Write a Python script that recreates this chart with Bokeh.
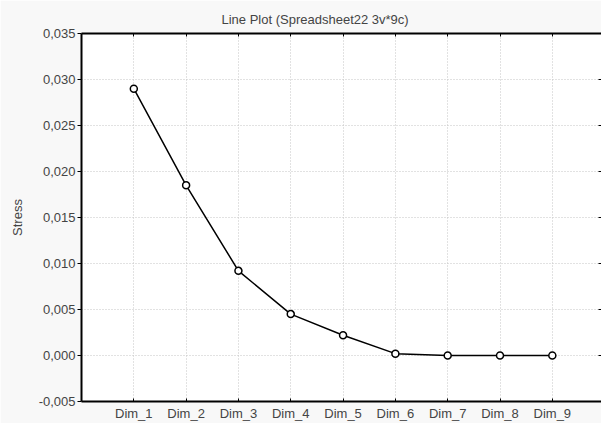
from bokeh.plotting import figure
from bokeh.models import Range1d, FixedTicker, CustomJSTickFormatter, LinearAxis, ColumnDataSource
from bokeh.embed import file_html
from bokeh.resources import INLINE

categories = ["Dim_1", "Dim_2", "Dim_3", "Dim_4", "Dim_5", "Dim_6", "Dim_7", "Dim_8", "Dim_9"]
stress = [0.0290, 0.0185, 0.0092, 0.0045, 0.0022, 0.0002, 0.0000, 0.0000, 0.0000]
y_ticks = [-0.005, 0.0, 0.005, 0.010, 0.015, 0.020, 0.025, 0.030, 0.035]
y_tick_labels = ["-0,005", "0,000", "0,005", "0,010", "0,015", "0,020", "0,025", "0,030", "0,035"]

positions = list(range(1, len(categories) + 1))
src = ColumnDataSource(dict(x=positions, y=stress, cat=categories))

FONT = "Liberation Sans"

p = figure(width=601, height=423, output_backend="svg", toolbar_location=None,
           x_range=Range1d(0, 9.94), y_range=Range1d(-0.005, 0.035),
           min_border_left=81, min_border_right=0, min_border_top=33, min_border_bottom=10,
           x_axis_location=None, y_axis_location=None)
p.border_fill_color = "#f8f8f8"
p.background_fill_color = "white"
p.outline_line_color = None

p.title.text = "Line Plot (Spreadsheet22 3v*9c)"
p.title.text_font = FONT
p.title.text_font_size = "13px"
p.title.text_font_style = "normal"
p.title.align = "left"
p.title.offset = 140
p.title.standoff = 13

code = "const i = tpos.findIndex(t => Math.abs(t - tick) < 1e-9); return i >= 0 ? tlab[i] : '';"
xfmt = CustomJSTickFormatter(args=dict(tpos=positions, tlab=categories), code=code)
yfmt = CustomJSTickFormatter(args=dict(tpos=y_ticks, tlab=y_tick_labels), code=code)
blank = CustomJSTickFormatter(code="return '';")

xb = LinearAxis(ticker=FixedTicker(ticks=positions), formatter=xfmt)
xb.major_tick_in = 3
xb.major_tick_out = 0
xb.minor_tick_line_color = None
xb.axis_line_width = 2
xb.major_label_text_font = FONT
xb.major_label_text_font_size = "13px"
xb.major_label_standoff = 4
p.add_layout(xb, "below")

yl = LinearAxis(ticker=FixedTicker(ticks=y_ticks), formatter=yfmt, axis_label="Stress")
yl.major_tick_in = 0
yl.major_tick_out = 4
yl.minor_tick_line_color = None
yl.axis_line_width = 2
yl.major_label_text_font = FONT
yl.major_label_text_font_size = "13px"
yl.major_label_standoff = 2
yl.axis_label_text_font = FONT
yl.axis_label_text_font_size = "13px"
yl.axis_label_text_font_style = "normal"
yl.axis_label_standoff = 11
p.add_layout(yl, "left")

xt = LinearAxis(ticker=FixedTicker(ticks=positions), formatter=blank)
xt.major_tick_in = 3
xt.major_tick_out = 0
xt.minor_tick_line_color = None
xt.axis_line_width = 2
xt.major_label_text_font_size = "0px"
xt.major_label_standoff = 0
p.add_layout(xt, "above")

yr = LinearAxis(ticker=FixedTicker(ticks=y_ticks), formatter=blank)
yr.major_tick_in = 3
yr.major_tick_out = 0
yr.minor_tick_line_color = None
yr.axis_line_color = None
yr.major_label_text_font_size = "0px"
yr.major_label_standoff = 0
p.add_layout(yr, "right")

p.xgrid.ticker = FixedTicker(ticks=positions)
p.ygrid.ticker = FixedTicker(ticks=y_ticks)
for g in (p.xgrid, p.ygrid):
    g.grid_line_color = "#c4c4c4"
    g.grid_line_dash = "1 2"
    g.grid_line_width = 1

p.line("x", "y", source=src, line_color="black", line_width=1.5)
p.scatter("x", "y", source=src, size=7, marker="circle", fill_color="white",
          line_color="black", line_width=1.5)

open("out.html", "w").write(file_html(p, INLINE))
